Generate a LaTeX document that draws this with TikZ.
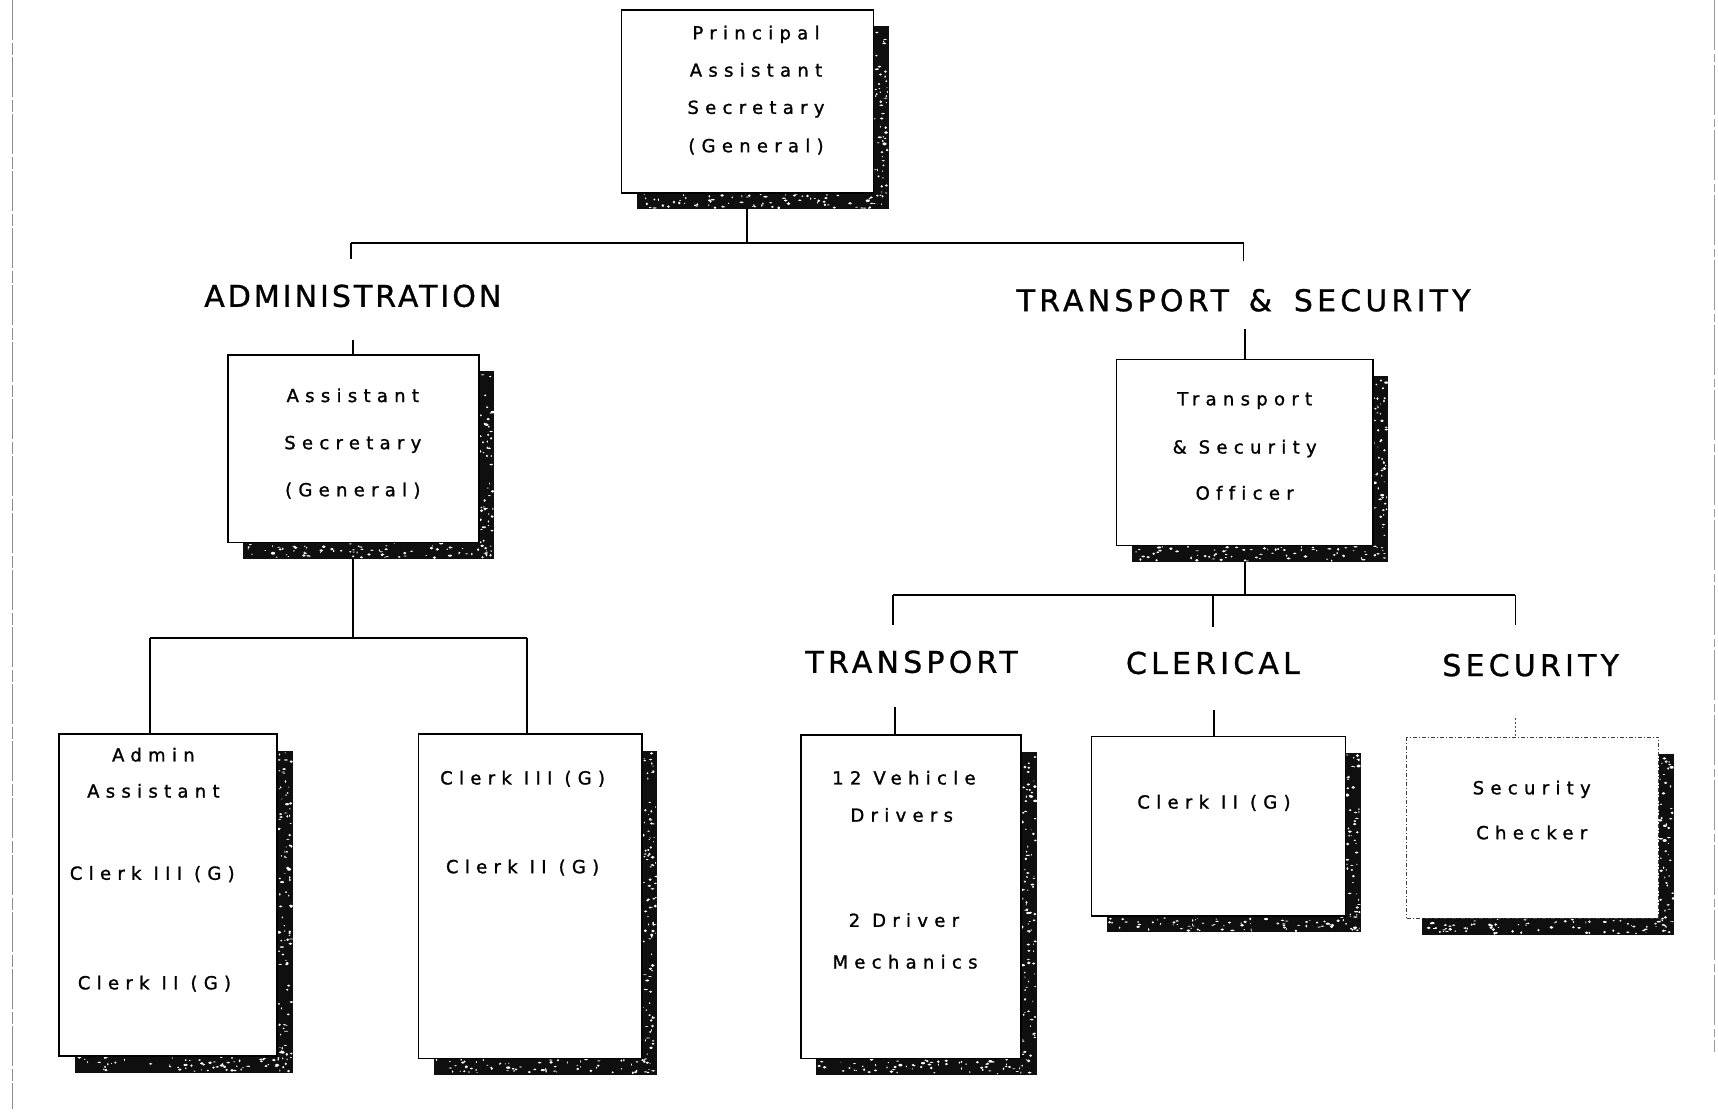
\documentclass[tikz,border=0pt]{standalone}
\usepackage{fontspec}
\setmainfont{DejaVu Sans}
\newfontfamily\boxfont[LetterSpace=35, Ligatures=NoCommon, FakeBold=1.3]{DejaVu Sans}
\newfontfamily\headfont[LetterSpace=14, Ligatures=NoCommon, FakeBold=1]{DejaVu Sans}
\newfontfamily\headfontwide[LetterSpace=10, Ligatures=NoCommon, FakeBold=1]{DejaVu Sans}
\usetikzlibrary{fit,backgrounds,calc}

\tikzset{
  orgrect/.style={draw, fill=white, line width=1.5pt, inner sep=0pt},
  dashrect/.style={draw=black!75, dash pattern=on 4pt off 2pt on 1pt off 2pt, line width=0.9pt},
  shadowfill/.style={fill=black!94},
  boxtext/.style={font=\boxfont\fontsize{18}{18}\selectfont, inner sep=0pt,
    text height=13pt, text depth=0pt, anchor=center},
  headtext/.style={font=\headfont\fontsize{30}{30}\selectfont, inner sep=0pt,
    text height=22pt, text depth=0pt, anchor=center},
  wire/.style={line width=1.8pt},
  faintwire/.style={line width=0.9pt, black!70, dash pattern=on 2pt off 2pt},
}

% white flecks scattered over a rectangle of the shadow
\newcommand\speck[5]{%
  \foreach \k in {1,...,#5}{%
    \pgfmathsetmacro\sx{(#1)+rnd*((#3)-(#1))}%
    \pgfmathsetmacro\sy{(#2)+rnd*((#4)-(#2))}%
    \pgfmathsetmacro\sa{0.4+1.7*rnd}%
    \pgfmathsetmacro\sb{0.4+1.1*rnd}%
    \fill[white] (\sx,\sy) ellipse[x radius=\sa*1pt, y radius=\sb*1pt];%
  }}

% box with a speckled drop shadow: [style]{name}{x1}{y1}{x2}{y2}
\newcommand\orgbox[6][orgrect]{%
  \fill[shadowfill] (#3+14,#4+15) rectangle (#5+14,#6+15);
  \pgfmathtruncatemacro\nr{((#6)-(#4))/3}
  \pgfmathtruncatemacro\nb{((#5)-(#3))/3}
  \speck{#5+1}{#4+17}{#5+13}{#6+14}{\nr}
  \speck{#3+16}{#6+1}{#5+13}{#6+14}{\nb}
  \node[#1, fit={(#3,#4)(#5,#6)}] (#2) {};
}

\begin{document}
\begin{tikzpicture}[x=1.0957pt, y=-1.0957pt]
\useasboundingbox (0,0) rectangle (1568,1018);
\pgfmathsetseed{4217}

% paper edges
\draw[black!45, line width=0.8pt, dash pattern=on 40pt off 3pt on 12pt off 2pt] (11,0) -- (11,1012);
\draw[black!40, line width=0.7pt, dash pattern=on 50pt off 4pt on 8pt off 3pt] (1565,0) -- (1565,960);

% ---- boxes ----
\orgbox{pas}{567}{9}{797}{176}
\orgbox{asg}{208}{324}{437}{495}
\orgbox{tso}{1019}{328}{1253}{498}
\orgbox{adm}{54}{670}{253}{964}
\orgbox{clk}{382}{670}{586}{966}
\orgbox{veh}{731}{671}{932}{966}
\orgbox{cle}{996}{672}{1228}{836}
\orgbox[orgrect,dashrect]{sec}{1284}{673}{1514}{838}

% ---- box texts ----
\node[boxtext] (pas1) at (690,30)  {Principal};
\node[boxtext] (pas2) at (690,64)  {Assistant};
\node[boxtext] (pas3) at (690,98)  {Secretary};
\node[boxtext] (pas4) at (690,133) {(General)};

\node[boxtext] (asg1) at (322,361) {Assistant};
\node[boxtext] (asg2) at (322,404) {Secretary};
\node[boxtext] (asg3) at (322,447) {(General)};

\node[boxtext] (tso1) at (1136,364) {Transport};
\node[boxtext] (tso2) at (1136,408) {\& Security};
\node[boxtext] (tso3) at (1136,450) {Officer};

\node[boxtext] (adm1) at (140,689) {Admin};
\node[boxtext] (adm2) at (140,722) {Assistant};
\node[boxtext] (adm3) at (139,797) {Clerk III (G)};
\node[boxtext] (adm4) at (141,897) {Clerk II (G)};

\node[boxtext] (clk1) at (477,710) {Clerk III (G)};
\node[boxtext] (clk2) at (477,791) {Clerk II (G)};

\node[boxtext] (veh1) at (825,710) {12 Vehicle};
\node[boxtext] (veh2) at (823,744) {Drivers};
\node[boxtext] (veh3) at (825,840) {2 Driver};
\node[boxtext] (veh4) at (826,878) {Mechanics};

\node[boxtext] (cle1) at (1108,732) {Clerk II (G)};

\node[boxtext] (sec1) at (1398,719) {Security};
\node[boxtext] (sec2) at (1398,760) {Checker};

% ---- section headings ----
\node[headtext, font=\headfontwide\fontsize{30}{30}\selectfont] (hadm) at (322,270) {ADMINISTRATION};
\node[headtext] (hts)  at (1135,274) {TRANSPORT\hspace{6pt} \&\hspace{8pt} SECURITY};
\node[headtext] (htr)  at (832,604) {TRANSPORT};
\node[headtext] (hcl)  at (1107,605) {CLERICAL};
\node[headtext] (hse)  at (1397,607) {SECURITY};

% ---- connector end points ----
\coordinate (busL) at (320,222);
\coordinate (busR) at (1135,222);
\coordinate (tickL) at (320,236);
\coordinate (tickR) at (1135,238);
\coordinate (stubAdm) at (322,310);
\coordinate (stubTs) at (1136,300);
\coordinate (bus2L) at (137,582);
\coordinate (bus2R) at (481,582);
\coordinate (bus3L) at (815,543);
\coordinate (bus3M) at (1107,543);
\coordinate (bus3R) at (1383,543);
\coordinate (tickTr) at (815,570);
\coordinate (tickCl) at (1107,572);
\coordinate (tickSe) at (1383,570);
\coordinate (stubTr) at (817,645);
\coordinate (stubCl) at (1108,648);
\coordinate (stubSe) at (1383,655);

% ---- connectors ----
\begin{scope}[on background layer]
  \draw[wire] (pas.south) -- (pas.south |- busL);
  \draw[wire] (busL) -- (busR);
  \draw[wire] (busL) -- (tickL);
  \draw[wire] (busR) -- (tickR);
  \draw[wire] (stubAdm) -- (stubAdm |- asg.north);
  \draw[wire] (stubTs) -- (stubTs |- tso.north);

  \draw[wire] (asg.south) -- (asg.south |- bus2L);
  \draw[wire] (bus2L) -- (bus2R);
  \draw[wire] (bus2L) -- (bus2L |- adm.north);
  \draw[wire] (bus2R) -- (bus2R |- clk.north);

  \draw[wire] (tso.south) -- (tso.south |- bus3L);
  \draw[wire] (bus3L) -- (bus3R);
  \draw[wire] (bus3L) -- (tickTr);
  \draw[wire] (bus3M) -- (tickCl);
  \draw[wire, line width=1.1pt] (bus3R) -- (tickSe);
  \draw[wire] (stubTr) -- (stubTr |- veh.north);
  \draw[wire] (stubCl) -- (stubCl |- cle.north);
  \draw[faintwire] (stubSe) -- (stubSe |- sec.north);
\end{scope}
\end{tikzpicture}
\end{document}
